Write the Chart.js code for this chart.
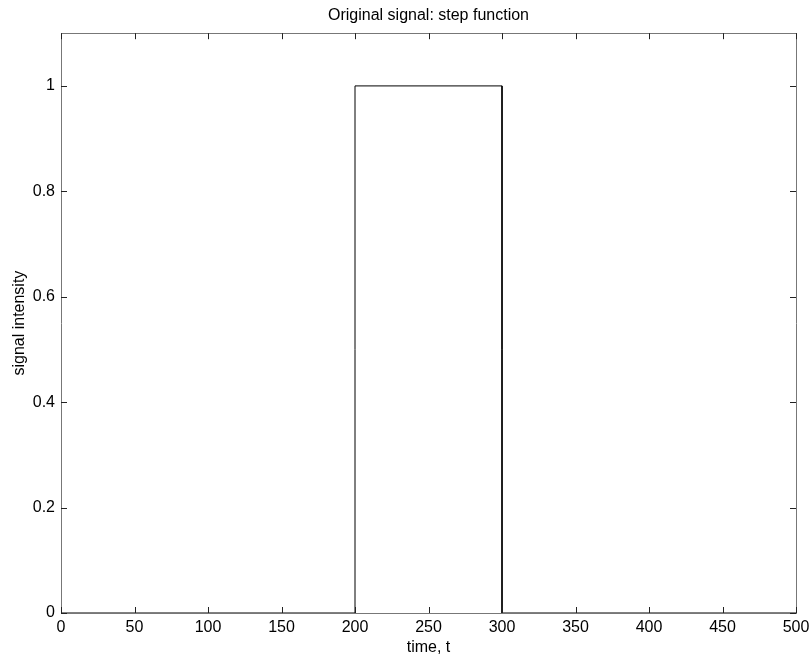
<!DOCTYPE html>
<html lang="en">

<head>
    <meta charset="UTF-8">
    <title>step function</title>
    <script src="https://cdn.jsdelivr.net/npm/chart.js"></script>
    <style>
        body { margin: 0; background: #fff; }
    </style>
</head>

<body>
    <canvas id="myChart" width="812" height="662"></canvas>
    <script>
        // breakpoints of the step signal
        const stepTimes = [0, 200, 200, 300, 300, 500];
        const stepValues = [0, 0, 1, 1, 0, 0];
        const xTicks = [0, 50, 100, 150, 200, 250, 300, 350, 400, 450, 500];
        const yTicks = [0, 0.2, 0.4, 0.6, 0.8, 1];

        const fontFamily = '"Liberation Sans", Arial, Helvetica, sans-serif';

        // inward tick marks on all four sides, like matlab
        const innerTicks = {
            id: 'innerTicks',
            afterDraw(chart) {
                const { ctx, chartArea: a, scales } = chart;
                const len = 6;
                ctx.save();
                ctx.strokeStyle = '#222';
                ctx.lineWidth = 1;
                ctx.beginPath();
                xTicks.forEach(v => {
                    const px = Math.round(scales.x.getPixelForValue(v)) + 0.5;
                    ctx.moveTo(px, a.bottom);
                    ctx.lineTo(px, a.bottom - len);
                    ctx.moveTo(px, a.top);
                    ctx.lineTo(px, a.top + len);
                });
                yTicks.forEach(v => {
                    const py = Math.round(scales.y.getPixelForValue(v)) + 0.5;
                    ctx.moveTo(a.left, py);
                    ctx.lineTo(a.left + len, py);
                    ctx.moveTo(a.right, py);
                    ctx.lineTo(a.right - len, py);
                });
                ctx.stroke();
                ctx.restore();
            }
        };

        let ctx = document.getElementById('myChart');
        let configs = {
            type: 'scatter'
            , data: {
                datasets: [
                    {
                        label: 'signal'
                        , data: stepTimes.map((t, i) => ({ x: t, y: stepValues[i] }))
                        , showLine: true
                        , borderColor: '#000'
                        , borderWidth: 1
                        , pointRadius: 0
                        , tension: 0
                    }
                ]
            }
            , options: {
                responsive: false
                , animation: false
                , layout: { padding: { left: 0, right: 16, top: 0, bottom: 0 } }
                , plugins: {
                    legend: { display: false }
                    , tooltip: { enabled: false }
                    , title: {
                        display: true
                        , fullSize: false
                        , text: 'Original signal: step function'
                        , color: '#000'
                        , font: { family: fontFamily, size: 16, weight: 'normal' }
                        , padding: { top: 6, bottom: 8 }
                    }
                }
                , scales: {
                    x: {
                        type: 'linear'
                        , position: 'bottom'
                        , min: 0
                        , max: 500
                        , grid: { display: false, drawTicks: false }
                        , border: { display: true, color: '#777', width: 1 }
                        , ticks: {
                            stepSize: 50
                            , color: '#000'
                            , padding: 5
                            , maxRotation: 0
                            , font: { family: fontFamily, size: 16 }
                        }
                        , title: {
                            display: true
                            , text: 'time, t'
                            , color: '#000'
                            , font: { family: fontFamily, size: 16 }
                            , padding: { top: 0, bottom: 5 }
                        }
                        , afterFit: function (scale) {
                            scale.height = 49;
                            scale.paddingLeft = 0;
                            scale.paddingRight = 0;
                        }
                    }
                    , y: {
                        type: 'linear'
                        , position: 'left'
                        , min: 0
                        , max: 1.1
                        , grid: { display: false, drawTicks: false }
                        , border: { display: true, color: '#777', width: 1 }
                        , afterBuildTicks: function (scale) {
                            scale.ticks = yTicks.map(v => ({ value: v }));
                        }
                        , ticks: {
                            color: '#000'
                            , padding: 6
                            , font: { family: fontFamily, size: 16 }
                            , callback: v => String(v)
                        }
                        , title: {
                            display: true
                            , text: 'signal intensity'
                            , color: '#000'
                            , font: { family: fontFamily, size: 16 }
                            , padding: { top: 10, bottom: 0 }
                        }
                        , afterFit: function (scale) {
                            scale.width = 61;
                            scale.paddingTop = 0;
                            scale.paddingBottom = 0;
                        }
                    }
                    , xTop: {
                        type: 'linear'
                        , position: 'top'
                        , min: 0
                        , max: 500
                        , grid: { display: false, drawTicks: false }
                        , border: { display: true, color: '#777', width: 1 }
                        , ticks: { display: false }
                        , afterFit: function (scale) { scale.height = 0; }
                    }
                    , yRight: {
                        type: 'linear'
                        , position: 'right'
                        , min: 0
                        , max: 1.1
                        , grid: { display: false, drawTicks: false }
                        , border: { display: true, color: '#777', width: 1 }
                        , ticks: { display: false }
                        , afterFit: function (scale) { scale.width = 0; }
                    }
                }
            }
            , plugins: [innerTicks]
        };
        let myChart = new Chart(ctx, configs);
    </script>
</body>

</html>
